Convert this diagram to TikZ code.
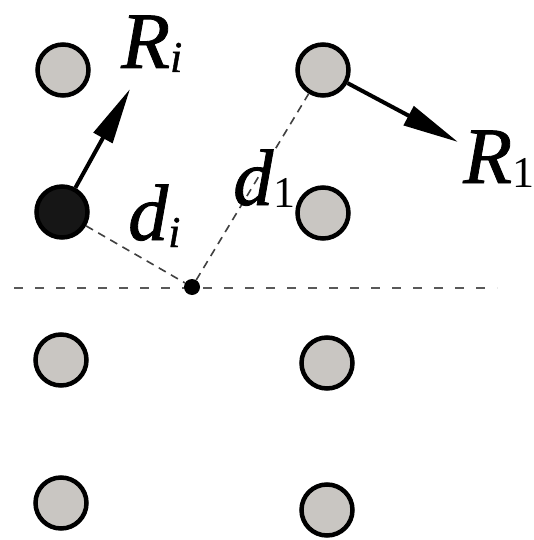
\documentclass[tikz,border=0pt]{standalone}
\usepackage{fontspec}
\setmainfont{Liberation Serif}[ItalicFeatures={FakeBold=1}]
\usetikzlibrary{arrows.meta}
\definecolor{ballgray}{HTML}{C9C6C2}
\definecolor{balldark}{HTML}{161616}
\newcommand\lowsub[2]{\raisebox{-#1pt}{\fontsize{44}{44}\selectfont #2}}
\begin{document}
\begin{tikzpicture}[x=1pt,y=-1pt,
  ball/.style={circle, draw=black, line width=4.5pt, fill=ballgray, minimum size=51pt, inner sep=0pt},
  darkball/.style={ball, fill=balldark},
  centre/.style={circle, fill=black, minimum size=16pt, inner sep=0pt},
  lab/.style={inner sep=0pt, anchor=base west, font=\fontsize{80}{80}\selectfont\itshape},
  guide/.style={dash pattern=on 8pt off 6pt, line width=1.6pt, draw=black!75},
  axisline/.style={dash pattern=on 9pt off 12pt, line width=1.5pt, draw=black!65},
  force/.style={line width=4pt, -{Triangle[length=56pt,width=21pt]}}
]
\useasboundingbox (0,0) rectangle (533,540);
\fill[white] (0,0) rectangle (533,540);

\coordinate (hl) at (14,288);
\coordinate (hr) at (497,288);
\draw[axisline] (hl) -- (hr);

\node[ball] (a1) at (63,70) {};
\node[ball] (b1) at (323,70) {};
\node[darkball] (a2) at (62,212) {};
\node[ball] (b2) at (323,213) {};
\node[ball] (a3) at (61,360) {};
\node[ball] (b3) at (327,363) {};
\node[ball] (a4) at (61,503) {};
\node[ball] (b4) at (327,510) {};

\node[centre] (o) at (192,287) {};

\draw[guide] (a2) -- (o);
\draw[guide] (o) -- (b1);

\coordinate (ti) at (130,89);
\coordinate (t1) at (458,142);
\draw[force] (a2) -- (ti);
\draw[force] (b1) -- (t1);

\node[lab] (Ri) at (121,68) {R\lowsub{4}{i}};
\node[lab] (di) at (128,240) {d\lowsub{7}{i}};
\node[lab] (d1) at (233,205) {d\lowsub{2}{\upshape 1}};
\node[lab] (R1) at (463,183) {R\lowsub{4}{\upshape 1}};
\end{tikzpicture}
\end{document}
